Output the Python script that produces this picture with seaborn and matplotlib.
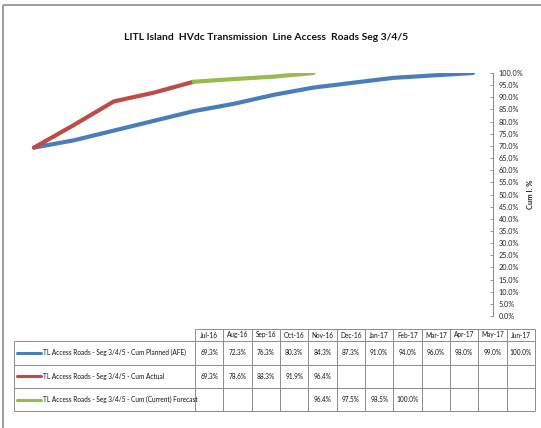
import numpy as np
import pandas as pd
import matplotlib
matplotlib.use("Agg")
import matplotlib.pyplot as plt
import seaborn as sns
from matplotlib.patches import Rectangle

# data
months = ['Jul-16', 'Aug-16', 'Sep-16', 'Oct-16', 'Nov-16', 'Dec-16',
          'Jan-17', 'Feb-17', 'Mar-17', 'Apr-17', 'May-17', 'Jun-17']
planned = [69.3, 72.3, 76.3, 80.3, 84.3, 87.3, 91.0, 94.0, 96.0, 98.0, 99.0, 100.0]
actual = [69.3, 78.6, 88.3, 91.9, 96.4] + [np.nan] * 7
forecast = [np.nan] * 4 + [96.4, 97.5, 98.5, 100.0] + [np.nan] * 4

series_names = ['TL Access Roads - Seg 3/4/5 - Cum Planned (AFE)',
                'TL Access Roads - Seg 3/4/5 - Cum Actual',
                'TL Access Roads - Seg 3/4/5 - Cum (Current) Forecast']
series_colors = ['#4A7EBB', '#BE4B48', '#98B954']

sns.set_style('white')
plt.rcParams['font.family'] = ['Lato', 'DejaVu Sans']

W, H = 541, 428
GRID = '#8c8c8c'
fig = plt.figure(figsize=(W / 100, H / 100), dpi=100)

# full-figure axes in pixel units for frame and data table
bg = fig.add_axes([0, 0, 1, 1])
bg.set_xlim(0, W)
bg.set_ylim(H, 0)
bg.axis('off')
bg.add_patch(Rectangle((3, 5), 700, 600, fill=False, ec=GRID, lw=1.2))

fig.text(266 / W, 1 - 37 / H,
         'LITL Island  HVdc Transmission  Line Access  Roads Seg 3/4/5',
         ha='center', va='center', fontsize=7.4, fontweight='bold', color='#111111')

# plot area
ax = fig.add_axes([14 / W, 1 - 316 / H, 479 / W, 243 / H])
df = pd.DataFrame({'pos': np.arange(len(months)),
                   'planned': np.array(planned) / 100,
                   'actual': np.array(actual) / 100,
                   'forecast': np.array(forecast) / 100})
for col, c in zip(['planned', 'actual', 'forecast'], series_colors):
    sns.lineplot(data=df.dropna(subset=[col]), x='pos', y=col, ax=ax, color=c,
                 lw=3, solid_capstyle='round', sort=False)

ax.set_xlim(-0.5, len(months) - 0.5)
ax.set_ylim(0, 1)
ax.set_xticks([])
ax.set_xlabel('')
ax.yaxis.tick_right()
yt = np.arange(0, 1.0001, 0.05)
ax.set_yticks(yt)
ax.set_yticklabels([f'{v * 100:.1f}%' for v in yt])
ax.tick_params(axis='y', direction='in', length=2, width=0.6, color='#868686',
               labelsize=5.2, pad=4, labelcolor='#222222')
for s in ['top', 'left', 'bottom']:
    ax.spines[s].set_visible(False)
ax.spines['right'].set_color('#868686')
ax.spines['right'].set_linewidth(0.7)
ax.yaxis.set_label_position('right')
ax.set_ylabel('Cum l. %', fontsize=5.5, fontweight='bold', rotation=90)
ax.yaxis.set_label_coords((527 - 14) / 479, 0.5)
ax.patch.set_alpha(0)

# data table, drawn in pixel units
x_lab, x0, x1 = 14, 195, 535
col_w = (x1 - x0) / len(months)
y_head, y_rows = 329, [341, 364.5, 388, 411]
col_edges = x0 + col_w * np.arange(len(months) + 1)

bg.hlines(y_head, x0, x1, color=GRID, lw=0.7)
bg.hlines(y_rows, x_lab, x1, color=GRID, lw=0.7)
bg.vlines(col_edges, y_head, y_rows[-1], color=GRID, lw=0.7)
bg.vlines(x_lab, y_rows[0], y_rows[-1], color=GRID, lw=0.7)

for i, m in enumerate(months):
    bg.text(col_edges[i] + col_w / 2, (y_head + y_rows[0]) / 2, m,
            ha='center', va='center', fontsize=4.7, color='#111111')

for r, (name, vals, c) in enumerate(zip(series_names, [planned, actual, forecast],
                                         series_colors)):
    ym = (y_rows[r] + y_rows[r + 1]) / 2
    bg.plot([17, 41], [ym, ym], color=c, lw=2.2)
    bg.text(43, ym, name, ha='left', va='center', fontsize=4.7, color='#111111')
    for i, v in enumerate(vals):
        if not np.isnan(v):
            bg.text(col_edges[i] + col_w / 2, ym, f'{v:.1f}%',
                    ha='center', va='center', fontsize=4.7, color='#111111')

fig.savefig('out.png', dpi=100)
